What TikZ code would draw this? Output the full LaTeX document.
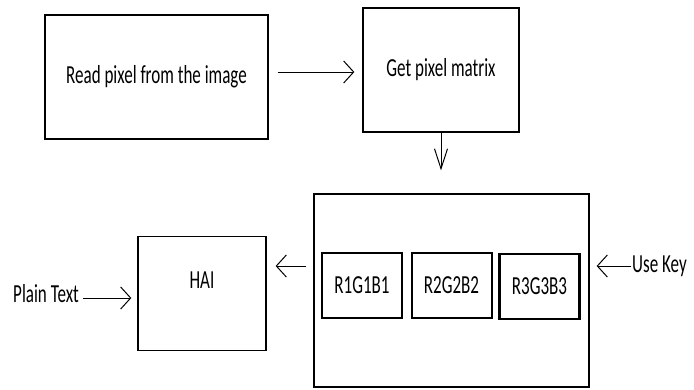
\documentclass[tikz,border=0pt]{standalone}
\usepackage{fontspec}
\setmainfont{Carlito}[FakeStretch=0.655]
\usetikzlibrary{arrows.meta}

\begin{document}
\begin{tikzpicture}[x=1pt, y=-1pt, font=\fontsize{26}{30}\selectfont,
		box/.style={draw, line width=1.3pt, inner sep=0pt},
		cell/.style={draw, line width=2pt, minimum width=80pt, minimum height=65pt, inner sep=0pt},
		lbl/.style={inner sep=1pt},
		harr/.style={-{Straight Barb[length=10pt, width=22pt]}, line width=1pt},
		varr/.style={-{Straight Barb[length=20pt, width=13pt]}, line width=1pt}]

		\useasboundingbox (0,0) rectangle (694,389);

		% top row
		\node[box, minimum width=223pt, minimum height=124pt] (read) at (156.5,77) {Read pixel from the image};
		\node[box, minimum width=156pt, minimum height=124pt] (matrix) at (441,70) {Get pixel matrix};

		% key block
		\node[box, minimum width=275pt, minimum height=193pt] (keys) at (451.5,290.5) {};
		\node[cell] (rgb1) at (362,285) {R1G1B1};
		\node[cell] (rgb2) at (451.5,285) {R2G2B2};
		\node[cell, line width=2.6pt] (rgb3) at (539.5,286.5) {R3G3B3};
		\node[lbl, anchor=west] (usekey) at (631,266) {Use Key};

		% bottom left
		\node[box, minimum width=128pt, minimum height=114pt, label={[yshift=13pt]center:HAI}] (hai) at (202,293.5) {};
		\node[lbl, anchor=west] (plain) at (12,294) {Plain Text};

		\begin{scope}
			\draw[harr, shorten <=9pt, shorten >=8pt] (read.east |- 0,72) -- (matrix.west |- 0,72);
			\draw[varr, shorten >=23pt] (matrix.south) -- (matrix.south |- keys.north);
			\draw[harr, shorten >=7pt] (usekey.west) -- (keys.east |- usekey.west);
			\draw[harr, shorten <=7pt, shorten >=9pt] (keys.west |- 0,266) -- (hai.east |- 0,266);
			\draw[harr, shorten <=3pt, shorten >=6pt] (plain.east |- 0,298) -- (hai.west |- 0,298);
		\end{scope}
	\end{tikzpicture}
\end{document}
